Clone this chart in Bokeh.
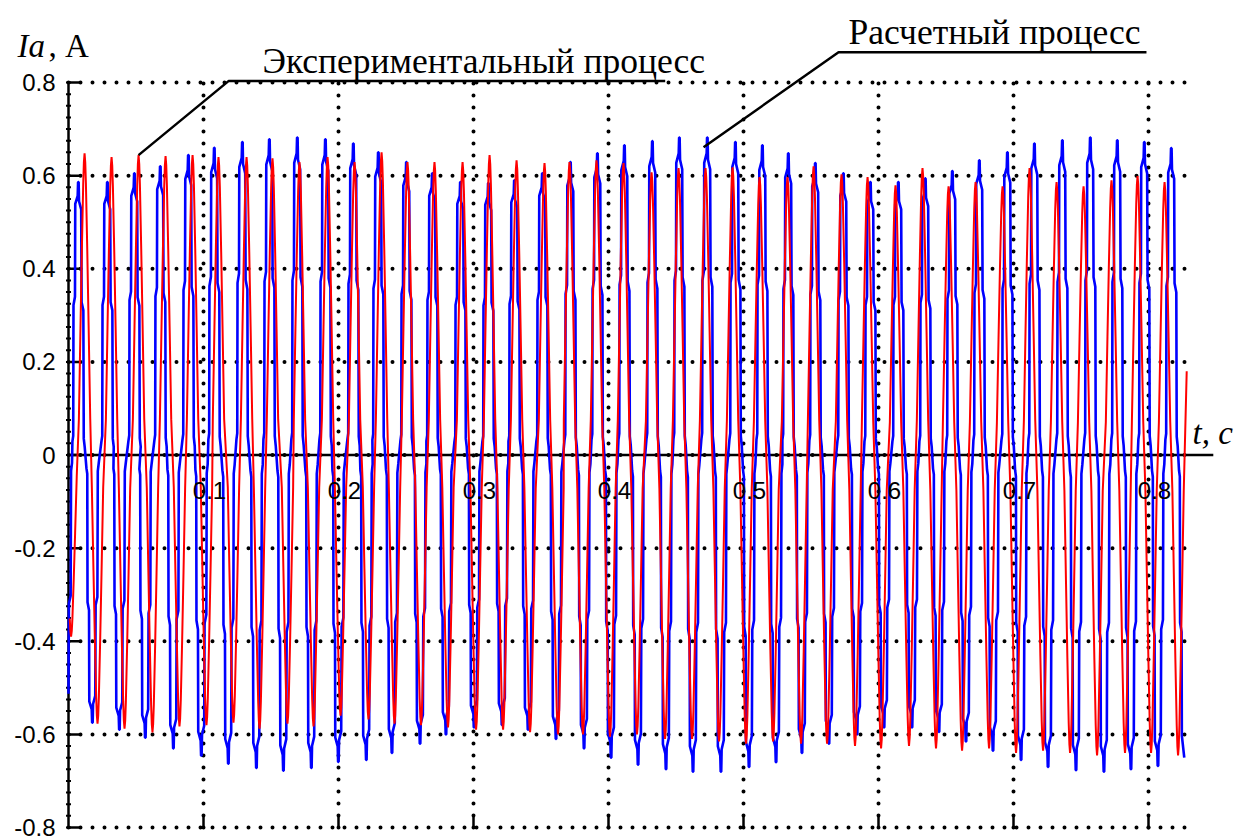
from bokeh.plotting import figure
from bokeh.models import Range1d, Label
from bokeh.core.properties import value
from bokeh.embed import file_html
from bokeh.resources import INLINE

# ---------------- data (times in ms, currents in A) ----------------
# Experimental process (red): positive peaks
red_peak_t = [11.9, 31.9, 51.9, 71.9, 91.9, 111.1, 131.9, 151.1, 171.1, 191.9, 211.9,
              231.9, 251.1, 271.1, 291.9, 311.9, 331.9, 352.6, 371.1, 391.1, 411.1, 431.9,
              451.9, 471.9, 491.9, 511.9, 532.6, 551.9, 572.6, 591.9, 612.6, 632.6,
              651.9, 671.9, 691.9, 711.9, 731.9, 751.9, 772.6, 791.9, 811.9]
red_peak_v = [0.648, 0.64, 0.644, 0.642, 0.644, 0.64, 0.64, 0.637, 0.629, 0.64, 0.629,
              0.65, 0.629, 0.629, 0.629, 0.644, 0.633, 0.627, 0.629, 0.633, 0.627, 0.607,
              0.616, 0.616, 0.618, 0.597, 0.597, 0.62, 0.603, 0.597, 0.579, 0.616,
              0.577, 0.586, 0.577, 0.616, 0.586, 0.577, 0.59, 0.599, 0.586]
# red negative peaks (magnitudes)
red_trough_t = [1.9, 21.5, 41.5, 62.2, 82.2, 102.2, 122.2, 141.5, 162.2, 181.5, 201.5, 222.2,
                241.5, 261.1, 281.1, 301.9, 321.9, 341.9, 362.6, 381.1, 401.1, 421.1, 441.9,
                461.9, 481.9, 501.9, 521.9, 542.6, 561.9, 582.6, 601.9, 622.6, 642.6,
                661.9, 681.9, 701.9, 721.9, 741.9, 761.9, 782.6, 801.9, 821.9]
red_trough_v = [0.39, 0.577, 0.588, 0.596, 0.583, 0.58, 0.575, 0.588, 0.577, 0.583, 0.56, 0.568,
                0.577, 0.58, 0.585, 0.59, 0.59, 0.595, 0.6, 0.6, 0.605, 0.6, 0.61,
                0.61, 0.615, 0.62, 0.615, 0.62, 0.62, 0.625, 0.63, 0.625, 0.63,
                0.635, 0.63, 0.64, 0.635, 0.64, 0.645, 0.64, 0.64, 0.645]
red_last_t, red_last_v = 828.3, 0.18

# Calculated process (blue): positive peaks
blue_peak_t = [7.4, 28.9, 48.9, 68.1, 88.9, 108.1, 128.9, 148.9, 169.6, 190.4, 211.1,
               229.6, 250.4, 269.6, 290.4, 311.1, 330.4, 351.1, 371.9, 391.9, 411.9, 432.6,
               452.6, 473.3, 494.1, 514.1, 533.3, 553.3, 574.1, 594.1, 614.8, 634.8,
               654.8, 674.8, 695.6, 715.6, 736.3, 757.0, 777.0, 797.0, 817.0]
blue_peak_v = [0.586, 0.586, 0.605, 0.62, 0.644, 0.66, 0.672, 0.678, 0.682, 0.678, 0.669,
               0.65, 0.629, 0.605, 0.586, 0.584, 0.59, 0.605, 0.629, 0.648, 0.665, 0.674,
               0.682, 0.682, 0.672, 0.665, 0.648, 0.627, 0.605, 0.586, 0.586, 0.594,
               0.61, 0.633, 0.65, 0.669, 0.676, 0.682, 0.676, 0.672, 0.659]
blue_trough_t = [-2.0, 17.8, 37.8, 57.0, 77.8, 98.5, 118.5, 139.3, 159.3, 180.0, 200.0, 220.7,
                 239.7, 260.5, 279.7, 300.5, 321.2, 340.5, 361.2, 382.0, 402.0, 422.0, 442.7,
                 462.7, 483.4, 504.2, 524.2, 543.4, 563.4, 584.2, 604.2, 624.9, 644.9,
                 664.9, 684.9, 705.7, 725.7, 746.4, 767.1, 787.1, 807.1, 827.1]
blue_trough_v = [0.57, 0.575, 0.59, 0.607, 0.63, 0.646, 0.663, 0.672, 0.678, 0.672, 0.659, 0.655,
                 0.64, 0.62, 0.60, 0.585, 0.58, 0.59, 0.61, 0.63, 0.65, 0.665, 0.675,
                 0.68, 0.68, 0.67, 0.66, 0.64, 0.62, 0.60, 0.585, 0.585, 0.595,
                 0.615, 0.635, 0.655, 0.67, 0.677, 0.68, 0.675, 0.668, 0.655]
blue_last_t, blue_last_v = 826.5, -0.65

# one-lobe shapes (ms from lobe tip, fraction of tip value)
red_shape_dt = [-4.2, -3.0, -2.0, -1.0, -0.5, 0.0, 0.5, 1.0, 2.0, 3.0, 4.2]
red_shape_v = [0.12, 0.43, 0.68, 0.90, 0.97, 1.0, 0.97, 0.90, 0.68, 0.43, 0.12]
blue_shape_dt = [-4.5, -3.9, -3.7, -2.6, -2.4, -0.6, -0.3, 0.1, 0.4, 2.0, 2.3, 3.6, 3.9, 4.6]
blue_shape_v = [0.05, 0.07, 0.55, 0.58, 0.92, 0.95, 1.0, 1.0, 0.93, 0.90, 0.56, 0.53, 0.06, 0.03]

y_ticks = [-0.8, -0.6, -0.4, -0.2, 0.0, 0.2, 0.4, 0.6, 0.8]
y_labels = ["-0.8", "-0.6", "-0.4", "-0.2", "0", "0.2", "0.4", "0.6", "0.8"]
x_ticks = [0.1, 0.2, 0.3, 0.4, 0.5, 0.6, 0.7, 0.8]
x_labels = ["0.1", "0.2", "0.3", "0.4", "0.5", "0.6", "0.7", "0.8"]

exp_leader_t = [0.0519, 0.1185, 0.442]
exp_leader_v = [0.644, 0.803, 0.803]
calc_leader_t = [0.4704, 0.5704, 0.7985]
calc_leader_v = [0.661, 0.865, 0.865]


def build(peak_t, peak_v, trough_t, trough_v, dts, svs, last_t, last_v):
    lobes = [(t, v) for t, v in zip(peak_t, peak_v)] + [(t, -v) for t, v in zip(trough_t, trough_v)]
    lobes.sort()
    xs, ys = [], []
    for c, a in lobes:
        for d, s in zip(dts, svs):
            t = c + d
            if 0.0 <= t < last_t:
                xs.append(t / 1000.0)
                ys.append(a * s)
    xs.append(last_t / 1000.0)
    ys.append(last_v)
    return xs, ys


bx, by = build(blue_peak_t, blue_peak_v, blue_trough_t, blue_trough_v,
               blue_shape_dt, blue_shape_v, blue_last_t, blue_last_v)
rx, ry = build(red_peak_t, red_peak_v, red_trough_t, red_trough_v,
               red_shape_dt, red_shape_v, red_last_t, red_last_v)

# ---------------- figure ----------------
PX_X = 1350.0      # pixels per second
PX_Y = 465.625     # pixels per ampere
p = figure(frame_width=1234, frame_height=837,
           x_range=Range1d(-68 / PX_X, 1166 / PX_X), y_range=Range1d(-0.8 - 10 / PX_Y, 0.8 + 82 / PX_Y),
           output_backend="svg", toolbar_location=None,
           x_axis_location=None, y_axis_location=None,
           min_border_left=0, min_border_right=0, min_border_top=0, min_border_bottom=0)
p.outline_line_color = None
p.background_fill_color = "white"
p.border_fill_color = "white"
p.xgrid.visible = False
p.ygrid.visible = False

# dotted grid
grid_end = 0.8296
p.multi_line(xs=[[0.0, grid_end] for _ in y_ticks], ys=[[y, y] for y in y_ticks],
             line_color="black", line_width=4, line_dash="0 12", line_cap="round")
p.multi_line(xs=[[x, x] for x in x_ticks], ys=[[-0.8, 0.8] for _ in x_ticks],
             line_color="black", line_width=4, line_dash="0 12", line_cap="round")

# current axis (left) with ticks
p.segment(x0=[0.0], y0=[-0.8], x1=[0.0], y1=[0.8], line_color="black", line_width=2.5)
p.segment(x0=[0.0] * len(y_ticks), y0=y_ticks, x1=[12 / PX_X] * len(y_ticks), y1=y_ticks,
          line_color="black", line_width=2.5)
minor = [-0.8 + 0.025 * i for i in range(65)]
p.segment(x0=[-2.5 / PX_X] * len(minor), y0=minor, x1=[2.5 / PX_X] * len(minor), y1=minor,
          line_color="black", line_width=2)
p.text(x=[0.0] * len(y_ticks), y=y_ticks, text=y_labels, x_offset=-13,
       text_align="right", text_baseline="middle",
       text_font=value("Liberation Sans"), text_font_size="24px", text_color="black")

# bottom tick marks
p.segment(x0=x_ticks, y0=[-0.8] * len(x_ticks), x1=x_ticks, y1=[-0.8 + 12 / PX_Y] * len(x_ticks),
          line_color="black", line_width=2.5)

# time axis through zero
p.segment(x0=[0.0], y0=[0.0], x1=[0.848], y1=[0.0], line_color="black", line_width=2.5)

# curves
p.line(bx, by, line_color="#0000FF", line_width=2.6)
p.line(rx, ry, line_color="#FF0000", line_width=2.0)

# x tick labels under the zero axis
p.text(x=x_ticks, y=[0.0] * len(x_ticks), text=x_labels, x_offset=6, y_offset=35,
       text_align="center", text_baseline="middle",
       text_font=value("Liberation Sans"), text_font_size="24px", text_color="black")

# leader lines
p.line(exp_leader_t, exp_leader_v, line_color="black", line_width=2.5)
p.line(calc_leader_t, calc_leader_v, line_color="black", line_width=2.5)

serif = "Liberation Serif"
p.add_layout(Label(x=0.1437, y=0.846, text="Экспериментальный процесс", text_font=serif,
                   text_font_size="35.5px", text_baseline="alphabetic", text_color="black"))
p.add_layout(Label(x=0.5778, y=0.909, text="Расчетный процесс", text_font=serif,
                   text_font_size="35.5px", text_baseline="alphabetic", text_color="black"))
p.add_layout(Label(x=-0.0378, y=0.879, text="Ia", text_font=serif, text_font_style="italic",
                   text_font_size="33px", text_baseline="alphabetic", text_color="black"))
p.add_layout(Label(x=-0.0148, y=0.879, text=", А", text_font=serif,
                   text_font_size="33px", text_baseline="alphabetic", text_color="black"))
p.add_layout(Label(x=0.8326, y=0.048, text="t, c", text_font=serif, text_font_style="italic",
                   text_font_size="33px", text_baseline="alphabetic", text_color="black"))

open("out.html", "w").write(file_html(p, INLINE))
